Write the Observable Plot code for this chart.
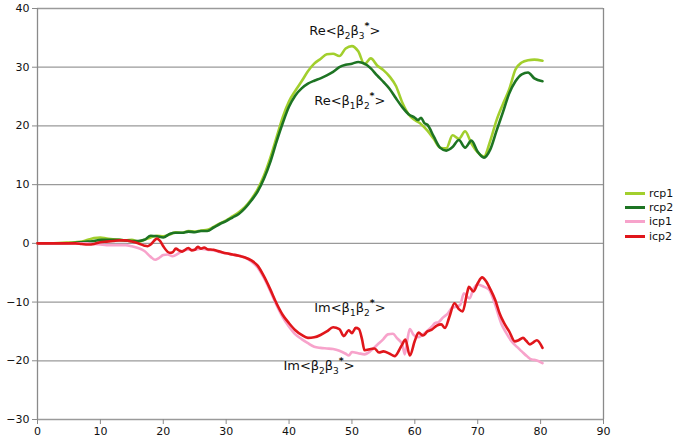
<!DOCTYPE html>
<html>
<head>
<meta charset="utf-8">
<script src="https://cdn.jsdelivr.net/npm/d3@7"></script>
<script src="https://cdn.jsdelivr.net/npm/@observablehq/plot@0.6"></script>
<style>
  html, body { margin: 0; padding: 0; background: #fff; }
  #wrap { position: relative; width: 696px; height: 447px; font-family: "DejaVu Sans", Verdana, sans-serif; }
  #legend { position: absolute; left: 625px; top: 186px; font-size: 11px; color: #111; }
  .item { display: flex; align-items: center; height: 14.3px; }
  .sw { width: 20px; height: 3px; margin-right: 4px; }
</style>
</head>
<body>
<div id="wrap"><div id="legend"></div></div>
<script>
// ---- data ----
const seriesNames = ["rcp1", "rcp2", "icp1", "icp2"];
const seriesColors = ["#a2cf2d", "#1d7423", "#f7a3cb", "#e0161b"];

const X_TICKS = [0, 10, 20, 30, 40, 50, 60, 70, 80, 90];
const Y_TICKS = [-30, -20, -10, 0, 10, 20, 30, 40];

const rcp1_x = [0,2,4,6,7,8,9,10,11,12,13,14,15,16,17,18,19,20,21,22,23,24,25,26,27,28,29,30,31,32,33,34,35,36,37,38,39,40,41,42,43,44,45,46,47,48,49,50,51,52,53,54,55,56,57,58,59,60,61,62,63,64,65,66,67,68,69,70,71,72,73,74,75,76,77,78,79,80.3];
const rcp1_y = [0,0,0.1,0.2,0.3,0.6,0.9,1.0,0.8,0.7,0.6,0.5,0.6,0.3,0.6,1.0,1.3,1.2,1.5,1.9,1.8,2.1,2.0,2.2,2.3,2.8,3.4,3.9,4.6,5.3,6.2,7.5,9.2,11.5,14.5,18,21.5,24.2,26,27.6,29.3,30.6,31.4,32.2,32.3,31.9,33.2,33.6,32.7,30.5,31.5,30.3,29.5,28.4,26.8,24,22,21,20.3,19.2,17.8,16.3,16.2,18.4,17.8,19.1,17,15.5,14.8,17.5,21,23.7,26.2,29.6,30.8,31.2,31.3,31.1];

const rcp2_x = [0,2,4,6,7,8,9,10,11,12,13,14,15,16,17,18,19,20,21,22,23,24,25,26,27,28,29,30,31,32,33,34,35,36,37,38,39,40,41,42,43,44,45,46,47,48,49,50,51,52,53,54,55,56,57,58,59,60,60.5,61,61.5,62,63,64,65,66,67,68,69,70,71,72,73,74,75,76,77,78,79,80.3];
const rcp2_y = [0,0,0,0.1,0.2,0.3,0.4,0.6,0.6,0.6,0.6,0.5,0.4,0.4,0.6,1.3,1.2,1.0,1.6,1.8,1.8,2.0,1.9,2.1,2.1,2.7,3.3,3.8,4.4,5.0,6.0,7.3,8.8,11,13.8,17.3,20.5,23.3,25.2,26.4,27.2,27.7,28.1,28.6,29.2,30,30.4,30.6,30.9,30.6,29.8,28.6,27.5,26.3,24.7,23.2,22,21.4,21.0,21.4,20.5,20.2,18.2,16.3,15.8,16.4,17.6,16.3,17.5,15.6,14.6,16,19.2,22.3,25.5,27.6,28.8,29.1,28.1,27.6];

const icp1_x = [0,4,8,9,10,11,12,13,14,15,16,17,18,18.7,19.3,20,20.7,21.5,22.3,23,24,25,26,27,28,29,30,31,32,33,34,35,36,37,38,39,40,41,42,43,44,45,46,47,48,49,49.5,50,51,52,53,54,55,55.7,56.5,57.2,58,58.4,58.8,59.2,59.8,60.5,61.2,62,62.7,63.2,63.8,64.5,65.2,65.9,66.5,67.2,67.8,68.7,69.3,70,71,71.8,72.6,73.8,74.5,75.4,76.2,77,77.8,78.6,79.3,80.3];
const icp1_y = [0,0,0,-0.1,-0.2,-0.3,-0.3,-0.3,-0.3,-0.5,-0.8,-1.3,-2.3,-2.8,-2.5,-2.0,-1.9,-2.2,-1.8,-1.3,-1.1,-1.1,-0.9,-1.1,-1.2,-1.5,-1.7,-1.9,-2.1,-2.4,-3.1,-4.1,-5.9,-8.1,-10.5,-12.6,-14.2,-15.5,-16.3,-17,-17.6,-17.8,-17.9,-18.0,-18.3,-18.8,-19.1,-18.5,-18.7,-18.9,-18.3,-17.3,-16.3,-15.5,-15.4,-16.2,-17.2,-18.9,-16.5,-14.6,-15.6,-16.0,-15.6,-14.9,-14.2,-13.6,-13.4,-12.6,-12,-11,-10.8,-10.5,-8.5,-9.4,-7.8,-7.0,-7.4,-7.9,-9.9,-13.8,-15.2,-16.7,-17.6,-18.4,-19.2,-19.8,-19.9,-20.4];

const icp2_x = [0,2,4,6,7,8,9,10,11,12,13,14,15,16,17,17.5,18,19,19.5,20,21,21.5,22,22.5,23,24,24.5,25,25.5,26,26.5,27,28,29,30,31,32,33,34,35,36,37,38,39,40,41,42,43,44,45,46,47,48,48.7,49.5,50,50.6,51.1,51.6,52,53,53.6,54.3,55,56,56.8,57.5,58,58.5,59.2,60,60.6,61.3,62,62.7,63.5,64.2,64.8,65.5,66.3,67,67.6,68.3,68.6,69.3,70,70.7,71.3,72,72.8,73.5,74.2,75,75.9,76.5,77.2,77.7,78.3,78.8,79.4,80.3];
const icp2_y = [0,0,0,0,-0.1,-0.2,-0.1,0.2,0.3,0.4,0.5,0.5,0.3,0,-0.4,-0.5,-0.2,0.8,0.4,-0.5,-1.6,-1.5,-0.9,-1.2,-1.4,-0.8,-1.2,-1.1,-0.6,-0.9,-0.7,-1,-1.1,-1.4,-1.7,-1.9,-2.1,-2.4,-2.9,-3.8,-5.6,-7.8,-10.2,-12.2,-13.6,-14.8,-15.6,-16.1,-16.0,-15.6,-15.0,-14.3,-14.6,-15.8,-14.8,-15.3,-14.4,-14.6,-16.3,-18.2,-18.0,-17.9,-18.6,-18.4,-18.8,-19.2,-18.2,-17.2,-16.4,-19.1,-16.6,-15.2,-15.7,-15,-14.7,-14.0,-13.8,-14.4,-12.5,-10.2,-11.2,-11.6,-8.5,-7.4,-8.2,-6.8,-5.8,-6.4,-7.8,-9.7,-12,-13.6,-15,-16.7,-16.5,-16.1,-16.6,-17.2,-16.9,-16.5,-17.8];

const labelText = ["Re<β₂β₃*>", "Re<β₁β₂*>", "Im<β₁β₂*>", "Im<β₂β₃*>"];
const labelX = [43.2, 44.0, 44.0, 39.1];
const labelY = [36.2, 24.3, -10.9, -20.9];

// ---- build tables ----
const xs = [rcp1_x, rcp2_x, icp1_x, icp2_x];
const ys = [rcp1_y, rcp2_y, icp1_y, icp2_y];
const tables = seriesNames.map((name, i) => xs[i].map((x, j) => ({x, y: ys[i][j], series: name})));
const labels = labelText.map((t, i) => ({t, x: labelX[i], y: labelY[i]}));

const chart = Plot.plot({
  width: 696,
  height: 447,
  marginLeft: 37,
  marginRight: 93,
  marginTop: 8,
  marginBottom: 28,
  style: {fontFamily: "DejaVu Sans, Verdana, sans-serif", fontSize: "11px", color: "#111", background: "white", overflow: "visible"},
  x: {domain: [0, 90]},
  y: {domain: [-30, 40]},
  marks: [
    Plot.gridY(Y_TICKS, {stroke: "#9a9a9a", strokeOpacity: 1, strokeWidth: 1.3}),
    Plot.ruleX([0, 90], {stroke: "#8a8a8a", strokeWidth: 1.3}),
    Plot.axisX({ticks: X_TICKS, tickSize: 5, tickPadding: 3, stroke: "#8a8a8a", label: null, fill: "#111"}),
    Plot.axisY({ticks: Y_TICKS, tickSize: 5, tickPadding: 3, stroke: "#8a8a8a", label: null, fill: "#111"}),
    ...tables.map((t, i) => Plot.line(t, {x: "x", y: "y", stroke: seriesColors[i], strokeWidth: 2.6, curve: "monotone-x"})),
    Plot.text(labels, {x: "x", y: "y", text: "t", textAnchor: "start", fontSize: 13, fill: "#111"})
  ]
});

// typeset subscripts (₁₂₃) and the superscript asterisk with tspans
const subMap = {"₁": "1", "₂": "2", "₃": "3"};
d3.select(chart).selectAll("text").each(function() {
  const el = d3.select(this);
  const s = el.text();
  if (!s.includes("β")) return;
  el.text(null);
  let cur = 0; // current baseline offset in px
  let buf = "";
  const flush = () => { if (buf) { el.append("tspan").attr("dy", -cur === 0 ? null : -cur).text(buf); cur = 0; buf = ""; } };
  for (const ch of s) {
    if (subMap[ch]) {
      flush();
      const target = 4;
      el.append("tspan").attr("dy", target - cur).attr("font-size", "9px").text(subMap[ch]);
      cur = target;
    } else if (ch === "*") {
      flush();
      const target = -6;
      el.append("tspan").attr("dy", target - cur).attr("font-size", "9.5px").attr("font-weight", "bold").text("*");
      cur = target;
    } else {
      if (cur !== 0 && !buf) {
        el.append("tspan").attr("dy", -cur).text(ch);
        cur = 0;
      } else {
        buf += ch;
      }
    }
  }
  flush();
});

document.getElementById("wrap").prepend(chart);

const legend = d3.select("#legend");
seriesNames.forEach((n, i) => {
  const it = legend.append("div").attr("class", "item");
  it.append("div").attr("class", "sw").style("background", seriesColors[i]);
  it.append("span").text(n);
});
</script>
</body>
</html>
